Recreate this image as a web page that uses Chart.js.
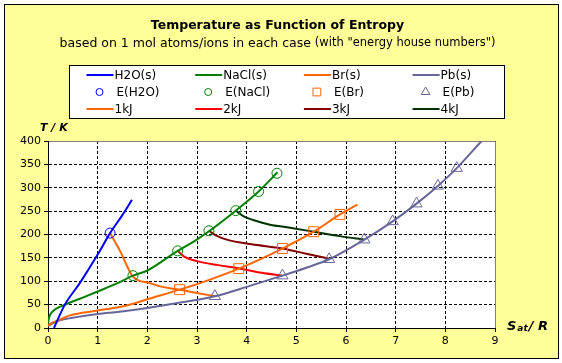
<!DOCTYPE html>
<html>
<head>
<meta charset="utf-8">
<title>Temperature as Function of Entropy</title>
<script src="https://cdn.jsdelivr.net/npm/chart.js@4.4.0/dist/chart.umd.min.js"></script>
<style>
    html, body { margin: 0; padding: 0; background: #ffffff; }
    canvas { display: block; }
</style>
</head>
<body>
<canvas id="grafico" width="562" height="363"></canvas>
<script>
// valores: x = S_at/R, y = T/K
var h2oX = [0.12, 0.34, 0.64, 1.0, 1.25, 1.5, 1.69];
var h2oY = [0, 50, 96, 157, 203, 242, 274];

var naclX = [0, 0.02, 0.1, 0.3, 0.7, 1.0, 1.4, 1.71, 2.0, 2.61, 2.95, 3.24, 3.78, 4.24, 4.62];
var naclY = [10, 22, 36, 48, 65, 78, 96, 112, 123, 165, 186, 207, 251, 292, 333];

var brX = [0, 0.1, 0.24, 0.44, 0.97, 1.44, 1.71, 2.05, 2.65, 3.06, 3.84, 4.72, 5.35, 5.88, 6.23];
var brY = [6, 12, 18, 27, 37, 45, 52, 63, 82, 96, 127, 170, 206, 243, 264];

var pbX = [0, 0.17, 0.5, 1.0, 1.44, 2.0, 2.7, 3.36, 4.0, 4.72, 5.2, 5.66, 6.37, 6.94, 7.42, 7.85, 8.23, 8.73];
var pbY = [4, 14, 22, 30, 35, 43, 55, 68, 88, 112, 129, 147, 189, 228, 266, 304, 342, 400];

var eH2oX = [1.25];
var eH2oY = [203];
var eNaclX = [1.71, 2.61, 3.24, 3.78, 4.24, 4.61];
var eNaclY = [112, 165, 208, 251, 292, 331];
var eBrX = [2.65, 3.84, 4.72, 5.35, 5.88];
var eBrY = [82, 127, 170, 206, 243];
var ePbX = [3.36, 4.72, 5.66, 6.37, 6.94, 7.42, 7.85, 8.23];
var ePbY = [68, 112, 147, 189, 228, 266, 304, 342];

// lineas de igual energia
var kj1X = [1.25, 1.45, 1.71, 2.05, 2.3, 2.65, 3.0, 3.36];
var kj1Y = [203, 165, 110, 96, 88, 82, 75, 68];
var kj2X = [2.61, 2.75, 3.0, 3.4, 3.84, 4.3, 4.72];
var kj2Y = [165, 152, 143, 135, 128, 118, 112];
var kj3X = [3.24, 3.4, 3.6, 4.1, 4.72, 5.2, 5.66];
var kj3Y = [208, 197, 189, 179, 170, 159, 148];
var kj4X = [3.78, 3.95, 4.13, 4.47, 4.84, 5.35, 5.9, 6.37];
var kj4Y = [251, 238, 231, 221, 215, 206, 196, 189];

var ticksX = [0, 1, 2, 3, 4, 5, 6, 7, 8, 9];
var ticksY = [0, 50, 100, 150, 200, 250, 300, 350, 400];

var fuente = '"DejaVu Sans", Verdana, sans-serif';

function puntos(xs, ys) {
    var p = [];
    for (var i = 0; i < xs.length; i++) {
        p.push({x: xs[i], y: ys[i]});
    }
    return p;
}

function linea(nombre, xs, ys, color) {
    return {
        label: nombre,
        data: puntos(xs, ys),
        showLine: true,
        borderColor: color,
        backgroundColor: color,
        borderWidth: 2,
        pointRadius: 0,
        cubicInterpolationMode: 'monotone',
        order: 2,
        tipo: 'linea'
    };
}

function marcas(nombre, xs, ys, color, estilo, radio, radioLeyenda) {
    return {
        label: nombre,
        data: puntos(xs, ys),
        showLine: false,
        borderColor: color,
        backgroundColor: 'rgba(0,0,0,0)',
        borderWidth: 1,
        pointStyle: estilo,
        pointRadius: radio,
        order: 1,
        tipo: 'marca',
        radioLeyenda: radioLeyenda
    };
}

var datasets = [
    linea('H2O(s)', h2oX, h2oY, '#0000FF'),
    linea('NaCl(s)', naclX, naclY, '#008000'),
    linea('Br(s)', brX, brY, '#FF6600'),
    linea('Pb(s)', pbX, pbY, '#666699'),
    marcas('E(H2O)', eH2oX, eH2oY, '#0000FF', 'circle', 5, 3.5),
    marcas('E(NaCl)', eNaclX, eNaclY, '#008000', 'circle', 5, 3.5),
    marcas('E(Br)', eBrX, eBrY, '#FF6600', 'rect', 7, 5.5),
    marcas('E(Pb)', ePbX, ePbY, '#666699', 'triangle', 6.5, 5),
    linea('1kJ', kj1X, kj1Y, '#FF6600'),
    linea('2kJ', kj2X, kj2Y, '#FF0000'),
    linea('3kJ', kj3X, kj3Y, '#800000'),
    linea('4kJ', kj4X, kj4Y, '#003300')
];

// fondo amarillo, marco y area blanca
var fondo = {
    id: 'fondo',
    beforeDraw: function(chart) {
        var ctx = chart.ctx;
        var a = chart.chartArea;
        ctx.save();
        ctx.fillStyle = '#ffffff';
        ctx.fillRect(0, 0, chart.width, chart.height);
        ctx.fillStyle = '#ffff99';
        ctx.fillRect(4, 4, 554, 354);
        ctx.strokeStyle = '#000000';
        ctx.lineWidth = 1;
        ctx.strokeRect(4.5, 4.5, 554, 354);
        ctx.fillStyle = '#ffffff';
        ctx.fillRect(a.left, a.top, a.right - a.left, a.bottom - a.top);
        ctx.restore();
    },
    beforeDatasetsDraw: function(chart) {
        var ctx = chart.ctx;
        var a = chart.chartArea;
        ctx.save();
        ctx.lineWidth = 1;
        // borde gris arriba y a la derecha
        ctx.strokeStyle = '#808080';
        ctx.beginPath();
        ctx.moveTo(a.left, a.top + 0.5);
        ctx.lineTo(a.right + 0.5, a.top + 0.5);
        ctx.lineTo(a.right + 0.5, a.bottom);
        ctx.stroke();
        // ejes negros continuos
        ctx.strokeStyle = '#000000';
        ctx.beginPath();
        ctx.moveTo(a.left + 0.5, a.top);
        ctx.lineTo(a.left + 0.5, a.bottom + 0.5);
        ctx.lineTo(a.right + 1, a.bottom + 0.5);
        ctx.stroke();
        ctx.restore();
    }
};

// titulos, rotulos de ejes y leyenda
var textos = {
    id: 'textos',
    afterDraw: function(chart) {
        var ctx = chart.ctx;
        var centro = 277.5;
        ctx.save();
        ctx.fillStyle = '#000000';
        ctx.textBaseline = 'middle';
        ctx.textAlign = 'center';
        ctx.font = 'bold 12.5px ' + fuente;
        ctx.fillText('Temperature as Function of Entropy', centro, 26);

        var parte1 = 'based on 1 mol atoms/ions in each case ';
        var parte2 = '(with "energy house numbers")';
        ctx.font = '12.5px ' + fuente;
        var w1 = ctx.measureText(parte1).width;
        ctx.font = '11.5px ' + fuente;
        var w2 = ctx.measureText(parte2).width;
        var x0 = centro - (w1 + w2) / 2;
        ctx.textAlign = 'left';
        ctx.font = '12.5px ' + fuente;
        ctx.fillText(parte1, x0, 43.5);
        ctx.font = '11.5px ' + fuente;
        ctx.fillText(parte2, x0 + w1, 43.5);

        // rotulos de ejes
        ctx.font = 'italic bold 11px ' + fuente;
        ctx.fillText('T / K', 40, 128);
        ctx.textBaseline = 'alphabetic';
        ctx.font = 'italic bold 13px ' + fuente;
        ctx.fillText('S', 507, 330);
        var ws = ctx.measureText('S').width;
        ctx.font = 'italic bold 9px ' + fuente;
        ctx.fillText('at', 507 + ws + 1, 331);
        var wa = ctx.measureText('at').width;
        ctx.font = 'italic bold 13px ' + fuente;
        ctx.fillText('/ R', 507 + ws + wa + 2, 330);

        // leyenda
        ctx.fillStyle = '#ffffff';
        ctx.fillRect(70, 65, 434, 53);
        ctx.strokeStyle = '#000000';
        ctx.lineWidth = 1;
        ctx.strokeRect(69.5, 65.5, 435, 53);
        ctx.font = '12px ' + fuente;
        ctx.textBaseline = 'middle';
        var ds = chart.data.datasets;
        for (var i = 0; i < ds.length; i++) {
            var col = i % 4;
            var fila = Math.floor(i / 4);
            var lx = 86.5 + col * 108.7;
            var ly = 75 + fila * 17;
            if (ds[i].tipo === 'linea') {
                ctx.strokeStyle = ds[i].borderColor;
                ctx.lineWidth = 2;
                ctx.beginPath();
                ctx.moveTo(lx, ly);
                ctx.lineTo(lx + 27, ly);
                ctx.stroke();
                ctx.fillStyle = '#000000';
                ctx.fillText(ds[i].label, lx + 28, ly + 0.5);
            } else {
                ctx.strokeStyle = ds[i].borderColor;
                ctx.fillStyle = 'rgba(0,0,0,0)';
                ctx.lineWidth = 1;
                Chart.helpers.drawPoint(ctx, {
                    pointStyle: ds[i].pointStyle,
                    radius: ds[i].radioLeyenda,
                    rotation: 0,
                    borderWidth: 1
                }, lx + 13, ly);
                ctx.fillStyle = '#000000';
                ctx.fillText(ds[i].label, lx + 30, ly + 0.5);
            }
        }
        ctx.restore();
    }
};

var rejilla = {
    color: '#000000',
    lineWidth: 1,
    tickBorderDash: [],
    tickLength: 4,
    tickColor: '#000000'
};

var borde = {
    color: '#000000',
    width: 1,
    dash: [3, 2]
};

var grafico = new Chart(document.getElementById('grafico'), {
    type: 'scatter',
    data: {
        datasets: datasets
    },
    options: {
        responsive: false,
        animation: false,
        layout: {
            padding: {left: 4, right: 67, top: 141, bottom: 15}
        },
        plugins: {
            legend: {display: false},
            title: {display: false},
            tooltip: {enabled: false}
        },
        scales: {
            x: {
                type: 'linear',
                min: ticksX[0],
                max: ticksX[ticksX.length - 1],
                afterBuildTicks: function(s) {
                    s.ticks = ticksX.map(function(v) { return {value: v}; });
                },
                ticks: {color: '#000000', font: {family: fuente, size: 11}, padding: 3, maxRotation: 0},
                grid: rejilla,
                border: borde,
                afterFit: function(s) { s.height = 20; }
            },
            y: {
                type: 'linear',
                min: ticksY[0],
                max: ticksY[ticksY.length - 1],
                afterBuildTicks: function(s) {
                    s.ticks = ticksY.map(function(v) { return {value: v}; });
                },
                ticks: {color: '#000000', font: {family: fuente, size: 11}, padding: 3},
                grid: rejilla,
                border: borde,
                afterFit: function(s) { s.width = 44; }
            }
        }
    },
    plugins: [fondo, textos]
});
</script>
</body>
</html>
